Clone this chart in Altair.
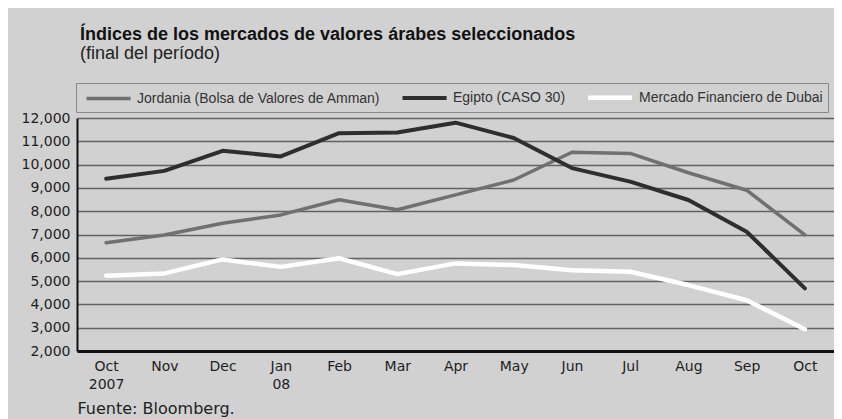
import altair as alt
import pandas as pd

months = ["Oct 2007", "Nov", "Dec", "Jan 08", "Feb", "Mar", "Apr", "May",
          "Jun", "Jul", "Aug", "Sep", "Oct"]
series = ["Jordania (Bolsa de Valores de Amman)", "Egipto (CASO 30)",
          "Mercado Financiero de Dubai"]
jordan = [6650, 6980, 7480, 7840, 8490, 8060, 8700, 9340, 10530, 10480, 9650, 8900, 6980]
egypt = [9390, 9730, 10590, 10350, 11350, 11380, 11800, 11140, 9850, 9270, 8480, 7120, 4690]
dubai = [5230, 5330, 5930, 5610, 5980, 5300, 5760, 5690, 5470, 5400, 4830, 4180, 2930]
y_ticks = list(range(2000, 12001, 1000))

rows = []
for name, vals in zip(series, [jordan, egypt, dubai]):
    for m, v in zip(months, vals):
        rows.append({"period": m, "series": name, "value": v})
df = pd.DataFrame(rows)

colors = ["#707070", "#2e2e2e", "#ffffff"]
widths = [3.5, 4.5, 5]

chart = alt.Chart(df).mark_line(strokeJoin="round", strokeCap="round").encode(
    x=alt.X("period:N", sort=months,
            scale=alt.Scale(type="point", padding=0.5),
            axis=alt.Axis(title="Fuente: Bloomberg.", labelAngle=0,
                          labelExpr="split(datum.label, ' ')",
                          labelFont="DejaVu Sans", labelFontSize=14,
                          labelColor="#1e1e1e", labelLineHeight=18,
                          labelPadding=8, ticks=False,
                          domainColor="#111111", domainWidth=3,
                          titleAnchor="start", titleFont="DejaVu Sans",
                          titleFontSize=16, titleFontWeight="normal",
                          titleColor="#222222", titlePadding=9)),
    y=alt.Y("value:Q", scale=alt.Scale(domain=[2000, 12000], nice=False),
            axis=alt.Axis(title=None, values=y_ticks, format=",d",
                          labelFont="DejaVu Sans", labelFontSize=14,
                          labelColor="#1e1e1e", labelPadding=7, ticks=False,
                          domainColor="#111111", domainWidth=2,
                          grid=True, gridColor="#626262", gridWidth=1.5)),
    color=alt.Color("series:N", sort=series,
                    scale=alt.Scale(domain=series, range=colors),
                    legend=alt.Legend(title=None, orient="none", direction="horizontal",
                                      legendX=-1, legendY=-35,
                                      symbolType="M-0.5,0H5.8", symbolSize=196,
                                      symbolStrokeWidth=3.5,
                                      labelFont="Liberation Sans", labelFontSize=14,
                                      labelColor="#333333", labelOffset=38,
                                      columnPadding=13, padding=5,
                                      strokeColor="#888888", labelLimit=400)),
    strokeWidth=alt.StrokeWidth("series:N", sort=series,
                                scale=alt.Scale(domain=series, range=widths),
                                legend=None),
).properties(
    width=757, height=233,
    autosize=alt.AutoSizeParams(type="none"),
    padding={"left": 69, "top": 110, "right": 0, "bottom": 68},
    title=alt.Title(text="Índices de los mercados de valores árabes seleccionados",
                    subtitle="(final del período)", anchor="start", frame="group",
                    dx=3, font="Liberation Sans", fontSize=18, fontWeight="bold",
                    color="#111111", subtitleFont="Liberation Sans",
                    subtitleFontSize=18, subtitleColor="#222222",
                    subtitlePadding=1, offset=20),
).configure(background="#d1d1d1").configure_view(strokeWidth=0)

chart.save("out.html", embed_options={"renderer": "svg", "actions": False})
